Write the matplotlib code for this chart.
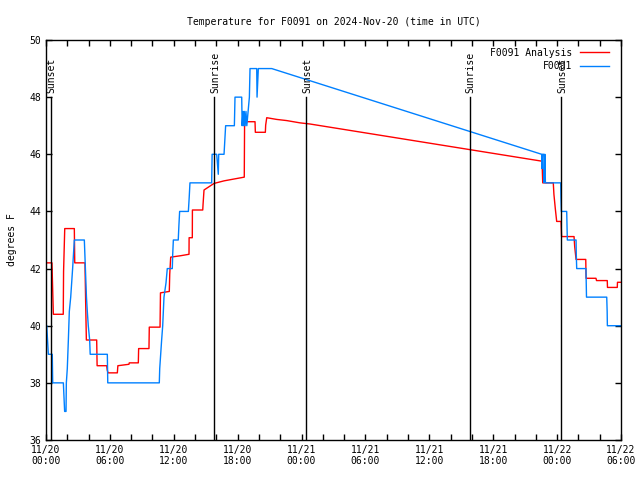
import matplotlib
matplotlib.use("Agg")
import matplotlib.pyplot as plt
from matplotlib.ticker import FixedLocator, MultipleLocator

# hours since 11/20 00:00 UTC
analysis_t = [0.0, 0.56, 0.69, 1.62, 1.65, 1.76, 2.66, 2.70, 3.66, 3.72, 3.79, 4.76, 4.80,
              5.70, 5.75, 5.82, 6.70, 6.75, 7.79, 7.82, 8.67, 8.70, 9.67, 9.70, 10.71, 10.75,
              11.58, 11.62, 11.71, 12.65, 13.43, 13.44, 13.74, 13.75, 14.72, 14.75, 14.84,
              15.78, 16.72, 17.59, 18.62, 18.65, 19.63, 19.66, 20.60, 20.63, 20.73, 21.67,
              22.60, 23.85, 24.79, 46.55, 46.60, 46.65, 47.64, 47.70, 47.83, 47.96, 48.37,
              48.42, 49.59, 49.65, 49.78, 50.69, 50.72, 51.65, 51.70, 52.71, 52.73, 53.65,
              53.67, 54.0]
analysis_v = [42.2, 42.2, 40.4, 40.4, 41.9, 43.4, 43.4, 42.2, 42.2, 40.9, 39.5, 39.5, 38.6,
              38.6, 38.45, 38.35, 38.35, 38.6, 38.65, 38.7, 38.7, 39.2, 39.2, 39.95, 39.95,
              41.15, 41.2, 41.8, 42.4, 42.45, 42.5, 43.08, 43.08, 44.05, 44.05, 44.25, 44.75,
              44.98, 45.07, 45.13, 45.2, 47.14, 47.14, 46.77, 46.77, 47.02, 47.28, 47.22,
              47.18, 47.1, 47.06, 45.76, 45.55, 45.0, 45.0, 44.6, 44.1, 43.65, 43.65,
              43.12, 43.12, 42.77, 42.32, 42.32, 41.66, 41.66, 41.58, 41.58, 41.34, 41.34,
              41.52, 41.52]

obs_t = [0.07, 0.22, 0.59, 0.63, 1.63, 1.75, 1.88, 1.91, 2.0, 2.1, 2.19, 2.32, 2.41, 2.5,
         2.66, 3.6, 3.65, 3.7, 3.8, 3.88, 3.97, 4.1, 4.15, 5.76, 5.8, 10.64, 10.68, 10.77,
         10.86, 10.96, 11.08, 11.27, 11.39, 11.86, 11.9, 11.96, 12.42, 12.48, 12.55, 13.37,
         13.45, 13.52, 15.56, 15.6, 16.03, 16.18, 16.22, 16.34, 16.72, 16.87, 17.69, 17.75,
         18.38, 18.42, 18.5, 18.56, 18.62, 18.7, 18.78, 18.86, 19.1, 19.16, 19.79, 19.82,
         19.94, 21.2, 46.55, 46.58, 46.62, 46.75, 46.78, 46.85, 46.9, 48.34, 48.36, 48.40,
         48.9, 48.96, 49.78, 49.8, 49.84, 50.71, 50.76, 52.66, 52.7, 52.72, 54.0]
obs_v = [40.0, 39.0, 39.0, 38.0, 38.0, 37.0, 37.0, 38.0, 38.5, 39.5, 40.5, 41.0, 41.5, 42.0,
         43.0, 43.0, 42.5, 42.0, 41.0, 40.5, 40.0, 39.5, 39.0, 39.0, 38.0, 38.0, 38.5, 39.0,
         39.5, 40.0, 41.0, 41.5, 42.0, 42.0, 42.5, 43.0, 43.0, 43.5, 44.0, 44.0,
         44.5, 45.0, 45.0, 46.0, 46.0, 45.3, 46.0, 46.0, 46.0, 47.0, 47.0, 48.0,
         48.0, 47.0, 47.5, 47.0, 47.5, 47.0, 47.5, 47.0, 48.0, 49.0, 49.0, 48.0,
         49.0, 49.0, 46.0, 45.5, 46.0, 46.0, 45.0, 46.0, 45.0, 45.0, 44.5, 44.0,
         44.0, 43.0, 43.0, 42.5, 42.0, 42.0, 41.0, 41.0, 40.5, 40.0, 40.0]

sun_t = [0.44, 15.78, 24.4, 39.8, 48.36]
sun_labels = ["Sunset", "Sunrise", "Sunset", "Sunrise", "Sunset"]

xtick_pos = [0, 6, 12, 18, 24, 30, 36, 42, 48, 54]
xtick_labels = ["11/20\n00:00", "11/20\n06:00", "11/20\n12:00", "11/20\n18:00",
                "11/21\n00:00", "11/21\n06:00", "11/21\n12:00", "11/21\n18:00",
                "11/22\n00:00", "11/22\n06:00"]

mono = "DejaVu Sans Mono"
fs = 7

fig = plt.figure(figsize=(6.4, 4.8), dpi=100)
ax = fig.add_axes([46 / 640, 40 / 480, 575 / 640, 400 / 480])

ax.plot(analysis_t, analysis_v, color="#ff0000", lw=1.0, label="F0091 Analysis")
ax.plot(obs_t, obs_v, color="#0080ff", lw=1.0, label="F0091")

for t, lab in zip(sun_t, sun_labels):
    ax.plot([t, t], [36, 48], color="black", lw=1.0)
    ax.text(t + 0.1, 48.15, lab, rotation=90, ha="center", va="bottom",
            family=mono, fontsize=fs)

ax.set_xlim(0, 54)
ax.set_ylim(36, 50)
ax.xaxis.set_major_locator(FixedLocator(xtick_pos))
ax.set_xticklabels(xtick_labels)
ax.xaxis.set_minor_locator(MultipleLocator(2))
ax.yaxis.set_major_locator(MultipleLocator(2))
ax.tick_params(which="both", direction="in", top=True, right=True, length=4, width=1,
               labelsize=fs)
for lab in ax.get_xticklabels() + ax.get_yticklabels():
    lab.set_family(mono)
for s in ax.spines.values():
    s.set_linewidth(1.0)

ax.set_ylabel("degrees F", family=mono, fontsize=fs, labelpad=9)
ax.set_title("Temperature for F0091 on 2024-Nov-20 (time in UTC)", family=mono,
             fontsize=fs, pad=11)

ax.legend(loc="upper right", bbox_to_anchor=(0.99, 0.995), frameon=False,
          markerfirst=False, prop={"family": mono, "size": fs}, handlelength=3.0,
          labelspacing=0.35, handletextpad=0.8, borderaxespad=0.2)

fig.savefig("out.png", dpi=100)
